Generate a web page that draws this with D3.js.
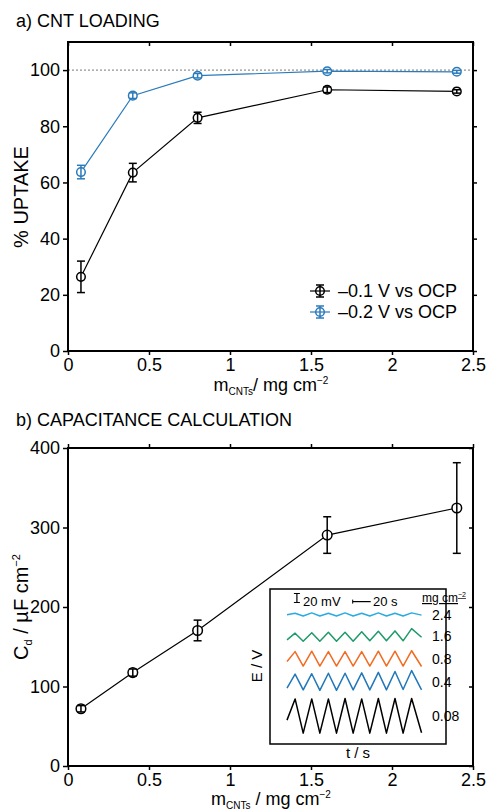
<!doctype html>
<html>
<head>
  <title> CNT loading and capacitance </title>
  <meta charset="UTF-8">
  <script src="https://d3js.org/d3.v7.min.js"></script>
  <style>
    body { margin: 0; background: white; }
    text { font-family: "Liberation Sans", Arial, sans-serif; fill: black; }
  </style>
</head>
<body>
  <div id="svg_area"></div>
</body>
</html>
<script>

// CNT loading (mg cm-2) used in both panels
var loading = [0.08, 0.4, 0.8, 1.6, 2.4];

// a) % uptake for the two potentials
var uptake01 = [26.4, 63.5, 83.0, 93.0, 92.4];
var uptake01Err = [5.6, 3.3, 2.0, 1.0, 0.6];
var uptake02 = [63.7, 90.9, 98.0, 99.6, 99.4];
var uptake02Err = [2.4, 1.0, 0.8, 0.6, 0.5];

// b) capacitance Cd (uF cm-2)
var capac = [72, 117.5, 170.5, 290.5, 324.5];
var capacErr = [4, 4.5, 13, 23, 57];

// tick values
var xTicks = [0, 0.5, 1, 1.5, 2, 2.5];
var uptakeTicks = [0, 20, 40, 60, 80, 100];
var capTicks = [0, 100, 200, 300, 400];

// inset: charge/discharge traces (time in s, E in mV, stacked)
var gcdLabels = ["2.4", "1.6", "0.8", "0.4", "0.08"];
var gcdTime = [0, 9, 18, 27.5, 36.5, 46, 55, 64.5, 73.5, 83, 92, 101.5, 110.5, 120, 129, 138.5, 149.5];
var gcd24 = [287, 290, 284, 291, 284, 290, 284, 291, 284, 290, 284, 291, 284, 290, 284, 291, 286];
var gcd16 = [231, 246, 228, 247, 228, 248, 228, 248, 228, 249, 229, 250, 229, 251, 229, 256, 237];
var gcd08 = [183, 205, 173, 206, 173, 205, 173, 205, 173, 205, 173, 206, 173, 206, 173, 207, 172];
var gcd04 = [124, 155, 120, 156, 119, 157, 119, 157, 120, 158, 120, 159, 120, 161, 121, 163, 120];
var gcd008 = [53, 100, 24, 100, 24, 100, 24, 101, 24, 100, 24, 101, 24, 101, 24, 101, 25];

var blue = "#2b7bba";
var gcdColors = ["#29aae1", "#1f9a6a", "#f26b22", "#2177b9", "#000000"];

var svg = d3.select("#svg_area").append("svg")
    .attr("width", 487)
    .attr("height", 810);

// shared x scale
var xScale = d3.scaleLinear().domain([0, 2.5]).range([68, 473]);

// ---------- a) CNT LOADING ----------
var yA = d3.scaleLinear().domain([0, 110]).range([351, 42]);

svg.append("text").attr("x", 16).attr("y", 27).attr("font-size", 18).text("a) CNT LOADING");

// dotted 100 % line
svg.append("line")
    .attr("x1", xScale(0)).attr("x2", xScale(2.5))
    .attr("y1", yA(100)).attr("y2", yA(100))
    .attr("stroke", "#777").attr("stroke-width", 1).attr("stroke-dasharray", "2,2");

// frame and axes
function frame(y, xTickIn, topOut, rightTicks, rightIn) {
  var g = svg.append("g");
  var x0 = xScale.range()[0], x1 = xScale.range()[1];
  var yb = y.range()[0], yt = y.range()[1];

  g.append("g").attr("transform", "translate(0," + yb + ")")
    .call(d3.axisBottom(xScale).tickValues(xTicks).tickSize(4).tickPadding(3).tickFormat(d3.format("")));
  g.append("g").attr("transform", "translate(0," + yt + ")")
    .call(d3.axisTop(xScale).tickValues(xTicks).tickSize(topOut ? 4 : -4).tickFormat(""));
  g.append("g").attr("transform", "translate(" + x0 + ",0)")
    .call(d3.axisLeft(y).tickValues(rightTicks).tickSize(5).tickPadding(3));
  g.append("g").attr("transform", "translate(" + x1 + ",0)")
    .call(d3.axisRight(y).tickValues(rightTicks).tickSize(rightIn ? -4 : 4).tickFormat(""));

  g.selectAll(".domain").remove();
  g.selectAll("line").attr("stroke", "black").attr("stroke-width", 1.5);
  g.selectAll("text").attr("font-size", 18).attr("font-family", "Liberation Sans, Arial, sans-serif").attr("fill", "black");

  g.append("rect")
    .attr("x", x0).attr("y", yt)
    .attr("width", x1 - x0).attr("height", yb - yt)
    .attr("fill", "none").attr("stroke", "black").attr("stroke-width", 2);
}

frame(yA, true, false, uptakeTicks, false);

// draws one series with error bars and hollow circles
function series(y, vals, errs, colour, r, capW) {
  var pts = loading.map(function (d, i) { return [d, vals[i], errs[i]]; });
  svg.append("path")
    .datum(pts)
    .attr("fill", "none").attr("stroke", colour).attr("stroke-width", 1.2)
    .attr("d", d3.line().x(function (d) { return xScale(d[0]); }).y(function (d) { return y(d[1]); }));

  var g = svg.append("g");
  g.selectAll("circle").data(pts).enter().append("circle")
    .attr("cx", function (d) { return xScale(d[0]); })
    .attr("cy", function (d) { return y(d[1]); })
    .attr("r", r)
    .attr("fill", "white").attr("stroke", colour).attr("stroke-width", 1.5);

  var eb = g.selectAll("g.eb").data(pts).enter().append("g")
    .attr("stroke", colour).attr("stroke-width", 1.5);
  eb.append("line")
    .attr("x1", function (d) { return xScale(d[0]); }).attr("x2", function (d) { return xScale(d[0]); })
    .attr("y1", function (d) { return y(d[1] - d[2]); }).attr("y2", function (d) { return y(d[1] + d[2]); });
  eb.append("line")
    .attr("x1", function (d) { return xScale(d[0]) - capW; }).attr("x2", function (d) { return xScale(d[0]) + capW; })
    .attr("y1", function (d) { return y(d[1] + d[2]); }).attr("y2", function (d) { return y(d[1] + d[2]); });
  eb.append("line")
    .attr("x1", function (d) { return xScale(d[0]) - capW; }).attr("x2", function (d) { return xScale(d[0]) + capW; })
    .attr("y1", function (d) { return y(d[1] - d[2]); }).attr("y2", function (d) { return y(d[1] - d[2]); });
}

series(yA, uptake01, uptake01Err, "black", 4.3, 4);
series(yA, uptake02, uptake02Err, blue, 4.3, 4);

// legend
var legend = [["\u20130.1 V vs OCP", "black", 291], ["\u20130.2 V vs OCP", blue, 312]];
legend.forEach(function (l) {
  svg.append("line").attr("x1", 310).attr("x2", 330).attr("y1", l[2]).attr("y2", l[2])
    .attr("stroke", l[1]).attr("stroke-width", 1.2);
  svg.append("line").attr("x1", 320).attr("x2", 320).attr("y1", l[2] - 6).attr("y2", l[2] + 6)
    .attr("stroke", l[1]).attr("stroke-width", 1.5);
  svg.append("line").attr("x1", 316).attr("x2", 324).attr("y1", l[2] - 6).attr("y2", l[2] - 6)
    .attr("stroke", l[1]).attr("stroke-width", 1.5);
  svg.append("line").attr("x1", 316).attr("x2", 324).attr("y1", l[2] + 6).attr("y2", l[2] + 6)
    .attr("stroke", l[1]).attr("stroke-width", 1.5);
  svg.append("circle").attr("cx", 320).attr("cy", l[2]).attr("r", 4.3)
    .attr("fill", "none").attr("stroke", l[1]).attr("stroke-width", 1.5);
  svg.append("text").attr("x", 338).attr("y", l[2]).attr("dy", "0.35em")
    .attr("font-size", 18).text(l[0]);
});

// axis labels
var xlabA = svg.append("text").attr("x", 271).attr("y", 391).attr("text-anchor", "middle").attr("font-size", 18);
xlabA.append("tspan").text("m");
xlabA.append("tspan").attr("font-size", 10).attr("dy", 4).text("CNTs");
xlabA.append("tspan").attr("dy", -4).text("/ mg cm");
xlabA.append("tspan").attr("font-size", 10).attr("dy", -7).text("\u22122");

svg.append("text").attr("transform", "translate(28,197) rotate(-90)")
  .attr("text-anchor", "middle").attr("font-size", 20).text("% UPTAKE");

// ---------- b) CAPACITANCE CALCULATION ----------
var yB = d3.scaleLinear().domain([0, 400]).range([766, 448]);

svg.append("text").attr("x", 16).attr("y", 426).attr("font-size", 18).text("b) CAPACITANCE CALCULATION");

frame(yB, false, true, capTicks, true);
series(yB, capac, capacErr, "black", 4.8, 4);

var xlabB = svg.append("text").attr("x", 271).attr("y", 805).attr("text-anchor", "middle").attr("font-size", 18);
xlabB.append("tspan").text("m");
xlabB.append("tspan").attr("font-size", 10).attr("dy", 4).text("CNTs");
xlabB.append("tspan").attr("dy", -4).text(" / mg cm");
xlabB.append("tspan").attr("font-size", 10).attr("dy", -7).text("\u22122");

var ylabB = svg.append("text").attr("transform", "translate(28,607) rotate(-90)")
  .attr("text-anchor", "middle").attr("font-size", 20);
ylabB.append("tspan").text("C");
ylabB.append("tspan").attr("font-size", 11).attr("dy", 4).text("d");
ylabB.append("tspan").attr("dy", -4).text(" / \u00b5F cm");
ylabB.append("tspan").attr("font-size", 11).attr("dy", -8).text("\u22122");

// ---------- inset ----------
var xIn = d3.scaleLinear().domain([0, 150]).range([287, 422]);
var yIn = d3.scaleLinear().domain([0, 344]).range([744, 589]);

svg.append("rect").attr("x", 270).attr("y", 589).attr("width", 176).attr("height", 155)
  .attr("fill", "white").attr("stroke", "black").attr("stroke-width", 1.5);

var traces = [gcd24, gcd16, gcd08, gcd04, gcd008];
var gcdLine = d3.line()
  .x(function (d, i) { return xIn(gcdTime[i]); })
  .y(function (d) { return yIn(d); });

traces.forEach(function (t, k) {
  svg.append("path").datum(t)
    .attr("fill", "none").attr("stroke", gcdColors[k]).attr("stroke-width", 1.5)
    .attr("stroke-linejoin", "round")
    .attr("d", gcdLine);
  svg.append("text").attr("x", 432).attr("y", yIn(d3.mean(t)) + 5)
    .attr("font-size", 14).text(gcdLabels[k]);
});

// scale bars: 20 mV and 20 s
svg.append("line").attr("x1", xIn(11)).attr("x2", xIn(11)).attr("y1", yIn(314)).attr("y2", yIn(334))
  .attr("stroke", "black").attr("stroke-width", 1.2);
svg.append("line").attr("x1", xIn(11) - 3).attr("x2", xIn(11) + 3).attr("y1", yIn(314)).attr("y2", yIn(314))
  .attr("stroke", "black").attr("stroke-width", 1);
svg.append("line").attr("x1", xIn(11) - 3).attr("x2", xIn(11) + 3).attr("y1", yIn(334)).attr("y2", yIn(334))
  .attr("stroke", "black").attr("stroke-width", 1);
svg.append("text").attr("x", 303).attr("y", 606).attr("font-size", 13).text("20 mV");

svg.append("line").attr("x1", xIn(73)).attr("x2", xIn(93)).attr("y1", yIn(316)).attr("y2", yIn(316))
  .attr("stroke", "black").attr("stroke-width", 1.2);
svg.append("line").attr("x1", xIn(73)).attr("x2", xIn(73)).attr("y1", yIn(316) - 2).attr("y2", yIn(316) + 2)
  .attr("stroke", "black").attr("stroke-width", 1);
svg.append("text").attr("x", 373).attr("y", 606).attr("font-size", 13).text("20 s");

var unit = svg.append("text").attr("x", 422).attr("y", 602).attr("font-size", 12)
  .attr("text-decoration", "underline");
unit.append("tspan").text("mg cm");
unit.append("tspan").attr("font-size", 7).attr("dy", -5).text("\u22122");

svg.append("text").attr("transform", "translate(262,666) rotate(-90)")
  .attr("text-anchor", "middle").attr("font-size", 15).text("E / V");
svg.append("text").attr("x", 358).attr("y", 758)
  .attr("text-anchor", "middle").attr("font-size", 15).text("t / s");

</script>
